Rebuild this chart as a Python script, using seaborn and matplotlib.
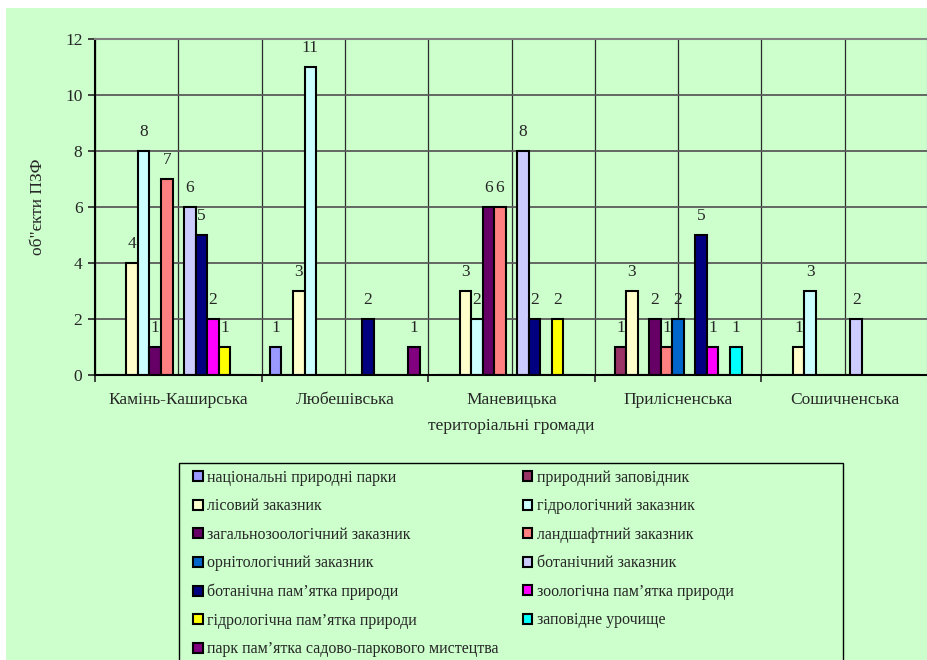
import numpy as np
import pandas as pd
import matplotlib
matplotlib.use('Agg')
import matplotlib.pyplot as plt
import seaborn as sns
from matplotlib.patches import Rectangle, Patch

# --- data ---
hromady = ['Камінь-Каширська', 'Любешівська', 'Маневицька', 'Прилісненська', 'Сошичненська']

object_types = [
    'національні природні парки',
    'природний заповідник',
    'лісовий заказник',
    'гідрологічний заказник',
    'загальнозоологічний заказник',
    'ландшафтний заказник',
    'орнітологічний заказник',
    'ботанічний заказник',
    'ботанічна пам’ятка природи',
    'зоологічна пам’ятка природи',
    'гідрологічна пам’ятка природи',
    'заповідне урочище',
    'парк пам’ятка садово-паркового мистецтва',
]

# values per hromada, in the order of object_types
kamin_kashyrska = [0, 0, 4, 8, 1, 7, 0, 6, 5, 2, 1, 0, 0]
liubeshivska = [1, 0, 3, 11, 0, 0, 0, 0, 2, 0, 0, 0, 1]
manevytska = [0, 0, 3, 2, 6, 6, 0, 8, 2, 0, 2, 0, 0]
prylisnenska = [0, 1, 3, 0, 2, 1, 2, 0, 5, 1, 0, 1, 0]
soshychnenska = [0, 0, 1, 3, 0, 0, 0, 2, 0, 0, 0, 0, 0]

colors = ['#9999FF', '#993366', '#FFFFCC', '#CCFFFF', '#660066', '#FF8080', '#0066CC',
          '#CCCCFF', '#000080', '#FF00FF', '#FFFF00', '#00FFFF', '#800080']

rows = []
for h, vals in zip(hromady, [kamin_kashyrska, liubeshivska, manevytska, prylisnenska, soshychnenska]):
    for t, v in zip(object_types, vals):
        rows.append({'hromada': h, 'type': t, 'count': v})
df = pd.DataFrame(rows)

sns.set_style('white')
plt.rcParams['font.family'] = ['Liberation Serif', 'DejaVu Serif']

BG = '#CCFFCC'
W, H = 928, 660
fig = plt.figure(figsize=(W / 100, H / 100), dpi=100)
fig.patch.set_facecolor('white')
fig.patches.append(Rectangle((6 / W, 0), 1, 1 - 8 / H, transform=fig.transFigure,
                             facecolor=BG, edgecolor='none', zorder=-10))

ax = fig.add_axes([95 / W, 1 - 375 / H, 833 / W, 336 / H])
ax.set_facecolor(BG)

sns.barplot(data=df, x='hromada', y='count', hue='type', order=hromady,
            hue_order=object_types, palette=colors, saturation=1, width=0.9,
            edgecolor='black', linewidth=1.5, ax=ax)
if ax.get_legend() is not None:
    ax.get_legend().remove()

# value labels, only for non-zero bars
for cont in ax.containers:
    labels = [f'{v:.0f}' if v > 0 else '' for v in cont.datavalues]
    ax.bar_label(cont, labels=labels, padding=8, fontsize=12.5)

ax.set_ylim(0, 12)
ax.set_yticks(np.arange(0, 13, 2))
ax.set_xlim(-0.5, len(hromady) - 0.5)
ax.set_xticks(np.arange(-0.5, len(hromady), 1), minor=True)

ax.set_axisbelow(True)
ax.yaxis.grid(True, color='#5a5a5a', linewidth=1.3)
ax.xaxis.grid(True, which='both', color='#2a2a2a', linewidth=0.9)

ax.tick_params(axis='y', length=5, width=1.3, color='#333333', labelsize=12.5, pad=4, left=True)
ax.tick_params(axis='x', which='major', length=0, labelsize=12.5, pad=12)
ax.tick_params(axis='x', which='minor', length=5, width=1.3, color='#333333', bottom=True)

for side in ['left', 'bottom']:
    ax.spines[side].set_color('black')
    ax.spines[side].set_linewidth(1.5)
for side in ['top', 'right']:
    ax.spines[side].set_color('#808080')
    ax.spines[side].set_linewidth(1.5)

ax.set_xlabel('територіальні громади', fontsize=12.5, va='top')
ax.xaxis.set_label_coords(0.5, (375 - 418) / 336)
ax.set_ylabel('об"єкти ПЗФ', fontsize=12.5)
ax.yaxis.set_label_coords((46 - 95) / 833, 0.5)

# legend: row-wise order in two columns
order = list(range(0, len(object_types), 2)) + list(range(1, len(object_types), 2))
handles = [Patch(facecolor=colors[i], edgecolor='black', linewidth=1.5) for i in order]
labels = [object_types[i] for i in order]
fig.legend(handles, labels, loc='upper left', bbox_to_anchor=(193 / W, 1 - 470 / H),
           ncol=2, frameon=False, fontsize=11.5, handlelength=0.6, handleheight=0.6,
           handletextpad=0.3, columnspacing=1.5, labelspacing=0.78,
           borderpad=0, borderaxespad=0)
fig.patches.append(Rectangle((179 / W, -0.2), (843 - 179) / W, 0.2 + 1 - 463 / H,
                             transform=fig.transFigure, facecolor='none',
                             edgecolor='black', linewidth=1.0, zorder=5))

fig.savefig('out.png', dpi=100, facecolor=fig.get_facecolor())
